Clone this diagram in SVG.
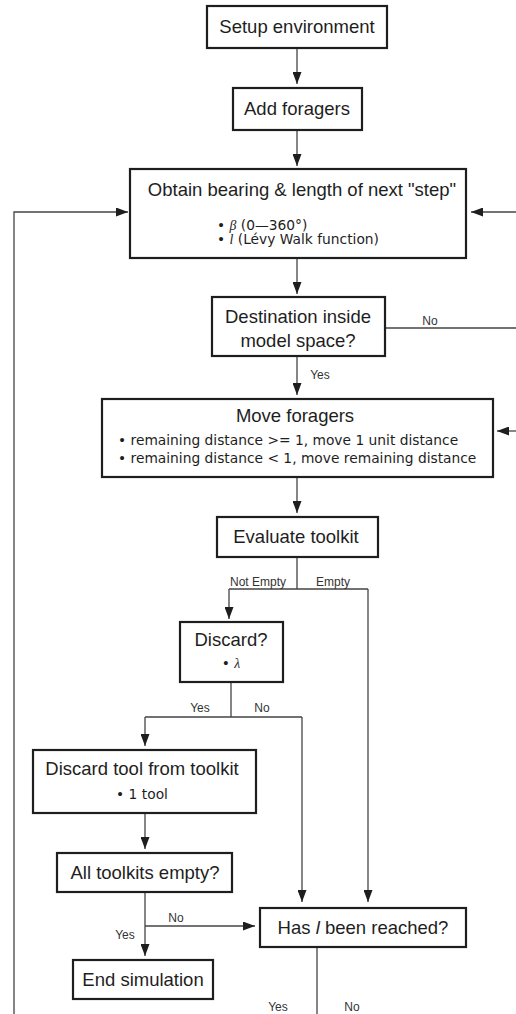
<svg xmlns="http://www.w3.org/2000/svg" width="516" height="1014" viewBox="0 0 516 1014">
<defs>
<style>
.box{fill:#fff;stroke:#1e1e1e;stroke-width:2.2}
.t{font-family:"Liberation Sans",Arial,sans-serif;font-size:18.5px;fill:#1e1e1e;text-anchor:middle}
.b{font-family:"DejaVu Sans",Verdana,sans-serif;font-size:13.8px;fill:#1e1e1e}
.l{font-family:"Liberation Sans",Arial,sans-serif;font-size:12px;fill:#333;text-anchor:middle}
.c{fill:none;stroke:#444;stroke-width:1.3}
.i{font-style:italic;font-family:"Liberation Serif",serif}
</style>
<marker id="ah" markerUnits="userSpaceOnUse" markerWidth="12" markerHeight="9" refX="12" refY="4.5" orient="auto">
<path d="M0,0 L12,4.5 L0,9 z" fill="#1e1e1e"/>
</marker>
</defs>
<rect width="516" height="1014" fill="#fff"/>
<g id="connectors">
<path class="c" d="M297,48 V84" marker-end="url(#ah)"/>
<path class="c" d="M297,130 V166" marker-end="url(#ah)"/>
<path class="c" d="M14,1014 V212 H128" marker-end="url(#ah)"/>
<path class="c" d="M516,212 H471" marker-end="url(#ah)"/>
<path class="c" d="M297,258 V294" marker-end="url(#ah)"/>
<path class="c" d="M385,328 H516"/>
<path class="c" d="M297,356 V395" marker-end="url(#ah)"/>
<path class="c" d="M516,431 H497" marker-end="url(#ah)"/>
<path class="c" d="M297,477 V513" marker-end="url(#ah)"/>
<path class="c" d="M297,557 V589 M229,589 H368"/>
<path class="c" d="M229,589 V619" marker-end="url(#ah)"/>
<path class="c" d="M368,589 V902" marker-end="url(#ah)"/>
<path class="c" d="M231,682 V717 M145,717 H302"/>
<path class="c" d="M145,717 V746" marker-end="url(#ah)"/>
<path class="c" d="M302,717 V902" marker-end="url(#ah)"/>
<path class="c" d="M145,813 V849" marker-end="url(#ah)"/>
<path class="c" d="M145,892 V956" marker-end="url(#ah)"/>
<path class="c" d="M145,926 H255" marker-end="url(#ah)"/>
<path class="c" d="M317,947 V1014"/>
<text class="l" x="430" y="325">No</text>
<text class="l" x="320" y="379">Yes</text>
<text class="l" x="258" y="586">Not Empty</text>
<text class="l" x="333" y="586">Empty</text>
<text class="l" x="200" y="712">Yes</text>
<text class="l" x="262" y="712">No</text>
<text class="l" x="176" y="922">No</text>
<text class="l" x="125" y="939">Yes</text>
<text class="l" x="278" y="1011">Yes</text>
<text class="l" x="352" y="1011">No</text>
</g>
<g id="setup">
<rect class="box" x="207" y="6" width="180" height="42"/>
<text class="t" x="297" y="33">Setup environment</text>
</g>
<g id="add">
<rect class="box" x="233" y="88" width="129" height="42"/>
<text class="t" x="297" y="115">Add foragers</text>
</g>
<g id="obtain">
<rect class="box" x="130" y="169" width="336" height="89"/>
<text class="t" x="302" y="196" font-size="19">Obtain bearing &amp; length of next "step"</text>
<text class="b" x="217" y="230">• <tspan class="i">β</tspan> (0—360°)</text>
<text class="b" x="217" y="244">• <tspan class="i">l</tspan> (Lévy Walk function)</text>
</g>
<g id="destination">
<rect class="box" x="212" y="297" width="173" height="59"/>
<text class="t" x="298" y="323">Destination inside</text>
<text class="t" x="298" y="347">model space?</text>
</g>
<g id="move">
<rect class="box" x="102" y="399" width="391" height="78"/>
<text class="t" x="295" y="422">Move foragers</text>
<text class="b" x="118" y="445">• remaining distance &gt;= 1, move 1 unit distance</text>
<text class="b" x="118" y="463">• remaining distance &lt; 1, move remaining distance</text>
</g>
<g id="evaluate">
<rect class="box" x="217" y="517" width="161" height="40"/>
<text class="t" x="296" y="543">Evaluate toolkit</text>
</g>
<g id="discard">
<rect class="box" x="180" y="622" width="103" height="60"/>
<text class="t" x="231" y="646">Discard?</text>
<text class="b" x="231" y="668" text-anchor="middle" font-size="11">• <tspan class="i">λ</tspan></text>
</g>
<g id="discardtool">
<rect class="box" x="33" y="750" width="223" height="63"/>
<text class="t" x="142" y="775">Discard tool from toolkit</text>
<text class="b" x="142" y="799" text-anchor="middle">• 1 tool</text>
</g>
<g id="alltoolkits">
<rect class="box" x="57" y="853" width="175" height="39"/>
<text class="t" x="145" y="879">All toolkits empty?</text>
</g>
<g id="end">
<rect class="box" x="73" y="960" width="140" height="39"/>
<text class="t" x="143" y="986">End simulation</text>
</g>
<g id="reached">
<rect class="box" x="260" y="908" width="206" height="39"/>
<text class="t" x="363" y="934">Has <tspan font-style="italic">l</tspan> been reached?</text>
</g>
</svg>
